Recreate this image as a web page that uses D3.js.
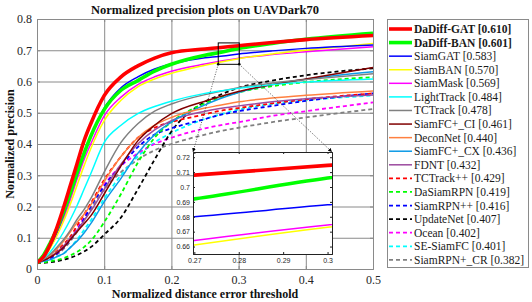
<!DOCTYPE html>
<html>
<head>
<meta charset="utf-8">
<script src="https://cdn.jsdelivr.net/npm/d3@7"></script>
<style>
  body { margin: 0; background: #fff; }
  svg { display: block; }
  text { font-family: "Liberation Serif", "Times New Roman", serif; }
</style>
</head>
<body>
<svg id="chart" width="532" height="302"></svg>
<script>
// thresholds shared by every curve
var thresholds = [ 0, 0.01, 0.02, 0.03, 0.04, 0.05, 0.06, 0.07, 0.08, 0.1, 0.125, 0.15, 0.175, 0.2, 0.25, 0.27, 0.3, 0.35, 0.4, 0.5 ];

var trackers = [ "DaDiff-GAT", "DaDiff-BAN", "SiamGAT", "SiamBAN", "SiamMask", "LightTrack", "TCTrack", "SiamFC+_CI", "DeconNet",
  "SiamFC+_CX", "FDNT", "TCTrack++", "DaSiamRPN", "SiamRPN++", "UpdateNet", "Ocean", "SE-SiamFC", "SiamRPN+_CR" ];
var scores = [ "0.610", "0.601", "0.583", "0.570", "0.569", "0.484", "0.478", "0.461", "0.440",
  "0.436", "0.432", "0.429", "0.419", "0.416", "0.407", "0.402", "0.401", "0.382" ];

var dadiffGat  = [ 0.02, 0.04, 0.08, 0.135, 0.20, 0.27, 0.34, 0.41, 0.465, 0.555, 0.615, 0.65, 0.675, 0.692, 0.704, 0.708, 0.7145, 0.725, 0.734, 0.747 ];
var dadiffBan  = [ 0.02, 0.045, 0.085, 0.13, 0.185, 0.245, 0.31, 0.37, 0.425, 0.51, 0.572, 0.603, 0.633, 0.655, 0.684, 0.692, 0.706, 0.722, 0.735, 0.754 ];
var siamGat    = [ 0.02, 0.04, 0.075, 0.12, 0.175, 0.24, 0.305, 0.37, 0.425, 0.515, 0.58, 0.615, 0.64, 0.656, 0.676, 0.680, 0.688, 0.698, 0.706, 0.717 ];
var siamBan    = [ 0.02, 0.038, 0.068, 0.108, 0.155, 0.21, 0.27, 0.33, 0.385, 0.475, 0.54, 0.583, 0.608, 0.626, 0.652, 0.661, 0.673, 0.688, 0.700, 0.722 ];
var siamMask   = [ 0.02, 0.04, 0.072, 0.115, 0.165, 0.225, 0.29, 0.35, 0.40, 0.49, 0.55, 0.59, 0.615, 0.633, 0.656, 0.664, 0.6745, 0.686, 0.695, 0.711 ];
var lightTrack = [ 0.02, 0.035, 0.055, 0.085, 0.12, 0.16, 0.205, 0.255, 0.305, 0.405, 0.46, 0.497, 0.52, 0.537, 0.562, 0.569, 0.578, 0.59, 0.598, 0.608 ];
var tcTrack    = [ 0.02, 0.032, 0.048, 0.07, 0.095, 0.125, 0.16, 0.19, 0.225, 0.31, 0.405, 0.465, 0.505, 0.528, 0.558, 0.567, 0.58, 0.595, 0.606, 0.625 ];
var siamFcCi   = [ 0.02, 0.028, 0.038, 0.052, 0.07, 0.095, 0.12, 0.145, 0.17, 0.24, 0.33, 0.41, 0.46, 0.497, 0.537, 0.55, 0.568, 0.59, 0.608, 0.645 ];
var deconNet   = [ 0.02, 0.03, 0.045, 0.065, 0.09, 0.12, 0.15, 0.175, 0.205, 0.28, 0.36, 0.42, 0.46, 0.485, 0.515, 0.523, 0.535, 0.547, 0.556, 0.570 ];
var siamFcCx   = [ 0.02, 0.025, 0.03, 0.04, 0.05, 0.07, 0.09, 0.115, 0.145, 0.215, 0.29, 0.37, 0.43, 0.47, 0.525, 0.543, 0.565, 0.59, 0.607, 0.631 ];
var fdnt       = [ 0.02, 0.028, 0.04, 0.055, 0.075, 0.1, 0.125, 0.155, 0.185, 0.255, 0.335, 0.40, 0.445, 0.475, 0.505, 0.513, 0.522, 0.535, 0.545, 0.557 ];
var tcTrackPP  = [ 0.02, 0.028, 0.04, 0.058, 0.08, 0.105, 0.14, 0.175, 0.21, 0.285, 0.36, 0.42, 0.452, 0.47, 0.495, 0.505, 0.515, 0.53, 0.543, 0.562 ];
var daSiamRpn  = [ 0.02, 0.021, 0.025, 0.029, 0.035, 0.044, 0.055, 0.07, 0.09, 0.15, 0.24, 0.34, 0.42, 0.47, 0.53, 0.547, 0.565, 0.585, 0.598, 0.614 ];
var siamRpnPP  = [ 0.02, 0.027, 0.035, 0.05, 0.07, 0.095, 0.125, 0.16, 0.2, 0.265, 0.33, 0.39, 0.43, 0.45, 0.48, 0.492, 0.505, 0.522, 0.538, 0.562 ];
var updateNet  = [ 0.02, 0.02, 0.022, 0.025, 0.03, 0.036, 0.045, 0.056, 0.07, 0.11, 0.165, 0.255, 0.35, 0.44, 0.535, 0.555, 0.58, 0.603, 0.62, 0.642 ];
var ocean      = [ 0.02, 0.027, 0.035, 0.05, 0.07, 0.097, 0.13, 0.165, 0.205, 0.27, 0.33, 0.37, 0.40, 0.42, 0.45, 0.459, 0.47, 0.49, 0.505, 0.533 ];
var seSiamFc   = [ 0.02, 0.025, 0.03, 0.04, 0.05, 0.07, 0.095, 0.125, 0.155, 0.225, 0.30, 0.36, 0.405, 0.435, 0.48, 0.493, 0.51, 0.528, 0.54, 0.555 ];
var siamRpnCr  = [ 0.02, 0.026, 0.033, 0.047, 0.065, 0.09, 0.12, 0.155, 0.19, 0.255, 0.31, 0.35, 0.38, 0.40, 0.43, 0.44, 0.452, 0.47, 0.485, 0.512 ];

var curves = [ dadiffGat, dadiffBan, siamGat, siamBan, siamMask, lightTrack, tcTrack, siamFcCi, deconNet,
  siamFcCx, fdnt, tcTrackPP, daSiamRpn, siamRpnPP, updateNet, ocean, seSiamFc, siamRpnCr ];

var colors = [ "#ff0000", "#00ff00", "#0000ff", "#ffff00", "#ff00ff", "#00ffff", "#808080", "#800000", "#ff8040",
  "#0d9ae6", "#9c4a9f", "#ff0000", "#00ff00", "#0000ff", "#000000", "#ff00ff", "#00ffff", "#808080" ];
var dashed = [ false, false, false, false, false, false, false, false, false, false, false, true, true, true, true, true, true, true ];

var xTicks = [ 0, 0.1, 0.2, 0.3, 0.4, 0.5 ];
var yTicks = [ 0, 0.1, 0.2, 0.3, 0.4, 0.5, 0.6, 0.7, 0.8 ];
var zoomXTicks = [ 0.27, 0.28, 0.29, 0.3 ];
var zoomYTicks = [ 0.66, 0.67, 0.68, 0.69, 0.7, 0.71, 0.72 ];
var zoomDomainX = [ 0.2697, 0.301 ];
var zoomDomainY = [ 0.655, 0.7235 ];
var zoomCount = 5;

var MARGIN = { left: 37, right: 373, top: 19, bottom: 269 };
var INSET = { left: 193, right: 332, top: 152, bottom: 254 };

var svg = d3.select( "#chart" );

var x = d3.scaleLinear().domain( [ 0, 0.5 ] ).range( [ MARGIN.left, MARGIN.right ] );
var y = d3.scaleLinear().domain( [ 0, 0.8 ] ).range( [ MARGIN.bottom, MARGIN.top ] );

var styleOf = function( i ){
  return {
    width: i < 2 ? 3.6 : ( dashed[ i ] ? 1.8 : 1.5 ),
    dash: dashed[ i ] ? "4,3" : null
  };
};

var defs = svg.append( "defs" );
defs.append( "clipPath" ).attr( "id", "clip-main" )
  .append( "rect" )
  .attr( "x", MARGIN.left ).attr( "y", MARGIN.top )
  .attr( "width", MARGIN.right - MARGIN.left ).attr( "height", MARGIN.bottom - MARGIN.top );
defs.append( "clipPath" ).attr( "id", "clip-inset" )
  .append( "rect" )
  .attr( "x", INSET.left ).attr( "y", INSET.top )
  .attr( "width", INSET.right - INSET.left ).attr( "height", INSET.bottom - INSET.top );
defs.append( "marker" )
  .attr( "id", "arrow" )
  .attr( "viewBox", "0 0 10 10" )
  .attr( "refX", 10 ).attr( "refY", 5 )
  .attr( "markerWidth", 5 ).attr( "markerHeight", 5 )
  .attr( "orient", "auto" )
  .append( "path" )
  .attr( "d", "M0,0 L10,5 L0,10 z" )
  .attr( "fill", "#000" );

// grid
svg.append( "g" ).call( d3.axisBottom( x ).tickValues( xTicks ).tickSize( -( MARGIN.bottom - MARGIN.top ) ).tickFormat( "" ) )
  .attr( "transform", "translate(0," + MARGIN.bottom + ")" )
  .call( function( g ){ g.select( ".domain" ).remove(); g.selectAll( "line" ).attr( "stroke", "#e3e3e3" ); } );
svg.append( "g" ).call( d3.axisLeft( y ).tickValues( yTicks ).tickSize( -( MARGIN.right - MARGIN.left ) ).tickFormat( "" ) )
  .attr( "transform", "translate(" + MARGIN.left + ",0)" )
  .call( function( g ){ g.select( ".domain" ).remove(); g.selectAll( "line" ).attr( "stroke", "#e3e3e3" ); } );

// curves, drawn last-first so the best tracker sits on top
var line = d3.line()
  .x( function( d, i ){ return x( thresholds[ i ] ); } )
  .y( function( d ){ return y( d ); } )
  .curve( d3.curveMonotoneX );

var plot = svg.append( "g" ).attr( "clip-path", "url(#clip-main)" );
for( var index = curves.length - 1 ; index >= 0 ; index-- ){
  var st = styleOf( index );
  plot.append( "path" )
    .datum( curves[ index ] )
    .attr( "d", line )
    .attr( "fill", "none" )
    .attr( "stroke", colors[ index ] )
    .attr( "stroke-width", st.width )
    .attr( "stroke-dasharray", st.dash );
}

// axes box with inward ticks
var axisColor = "#8a8a8a";
svg.append( "g" ).attr( "transform", "translate(0," + MARGIN.bottom + ")" )
  .call( d3.axisBottom( x ).tickValues( xTicks ).tickSize( -3 ).tickPadding( 6 ).tickFormat( d3.format( "" ) ) );
svg.append( "g" ).attr( "transform", "translate(0," + MARGIN.top + ")" )
  .call( d3.axisTop( x ).tickValues( xTicks ).tickSize( -3 ).tickFormat( "" ) );
svg.append( "g" ).attr( "transform", "translate(" + MARGIN.left + ",0)" )
  .call( d3.axisLeft( y ).tickValues( yTicks ).tickSize( -3 ).tickPadding( 5 ).tickFormat( d3.format( "" ) ) );
svg.append( "g" ).attr( "transform", "translate(" + MARGIN.right + ",0)" )
  .call( d3.axisRight( y ).tickValues( yTicks ).tickSize( -3 ).tickFormat( "" ) );
svg.selectAll( ".domain, .tick line" ).attr( "stroke", axisColor );
svg.selectAll( ".tick text" )
  .attr( "font-size", 12 )
  .attr( "fill", "#262626" );

// zoom box and arrows
var zx0 = x( zoomDomainX[ 0 ] ), zx1 = x( zoomDomainX[ 1 ] );
var zy0 = y( zoomDomainY[ 1 ] ), zy1 = y( zoomDomainY[ 0 ] );
svg.append( "rect" )
  .attr( "x", zx0 ).attr( "y", zy0 )
  .attr( "width", zx1 - zx0 ).attr( "height", zy1 - zy0 )
  .attr( "fill", "none" ).attr( "stroke", "#000" ).attr( "stroke-width", 1 );
[ [ zx0, INSET.left ], [ zx1, INSET.right ] ].forEach( function( p ){
  svg.append( "line" )
    .attr( "x1", p[ 0 ] ).attr( "y1", zy1 )
    .attr( "x2", p[ 1 ] ).attr( "y2", INSET.top )
    .attr( "stroke", "#333" ).attr( "stroke-width", 0.8 )
    .attr( "stroke-dasharray", "1,1.5" )
    .attr( "marker-end", "url(#arrow)" );
  svg.append( "circle" ).attr( "cx", p[ 0 ] ).attr( "cy", zy1 ).attr( "r", 1.3 ).attr( "fill", "#000" );
} );

// inset
var ix = d3.scaleLinear().domain( zoomDomainX ).range( [ INSET.left, INSET.right ] );
var iy = d3.scaleLinear().domain( zoomDomainY ).range( [ INSET.bottom, INSET.top ] );

svg.append( "rect" )
  .attr( "x", INSET.left ).attr( "y", INSET.top )
  .attr( "width", INSET.right - INSET.left ).attr( "height", INSET.bottom - INSET.top )
  .attr( "fill", "#fff" );

var insetLine = d3.line()
  .x( function( d, i ){ return ix( thresholds[ i ] ); } )
  .y( function( d ){ return iy( d ); } )
  .curve( d3.curveMonotoneX );

var inset = svg.append( "g" ).attr( "clip-path", "url(#clip-inset)" );
for( var k = zoomCount - 1 ; k >= 0 ; k-- ){
  inset.append( "path" )
    .datum( curves[ k ] )
    .attr( "d", insetLine )
    .attr( "fill", "none" )
    .attr( "stroke", colors[ k ] )
    .attr( "stroke-width", k < 2 ? 3.6 : 1.5 );
}

var insetAxes = svg.append( "g" ).attr( "class", "inset-axes" );
insetAxes.append( "g" ).attr( "transform", "translate(0," + INSET.bottom + ")" )
  .call( d3.axisBottom( ix ).tickValues( zoomXTicks ).tickSize( -2 ).tickPadding( 4 ).tickFormat( d3.format( "" ) ) );
insetAxes.append( "g" ).attr( "transform", "translate(0," + INSET.top + ")" )
  .call( d3.axisTop( ix ).tickValues( zoomXTicks ).tickSize( -2 ).tickFormat( "" ) );
insetAxes.append( "g" ).attr( "transform", "translate(" + INSET.left + ",0)" )
  .call( d3.axisLeft( iy ).tickValues( zoomYTicks ).tickSize( -2 ).tickPadding( 3 ).tickFormat( d3.format( "" ) ) );
insetAxes.append( "g" ).attr( "transform", "translate(" + INSET.right + ",0)" )
  .call( d3.axisRight( iy ).tickValues( zoomYTicks ).tickSize( -2 ).tickFormat( "" ) );
insetAxes.selectAll( ".domain, .tick line" ).attr( "stroke", "#222" ).attr( "stroke-width", 1 );
insetAxes.selectAll( ".tick text" )
  .style( "font-family", "'Liberation Sans', Arial, sans-serif" )
  .attr( "font-size", 7 )
  .attr( "fill", "#262626" );

// titles
svg.append( "text" )
  .attr( "x", 205 ).attr( "y", 14 )
  .attr( "text-anchor", "middle" )
  .attr( "font-size", 12.5 ).attr( "font-weight", "bold" )
  .attr( "fill", "#111" )
  .text( "Normalized precision plots on UAVDark70" );
svg.append( "text" )
  .attr( "x", 205 ).attr( "y", 298 )
  .attr( "text-anchor", "middle" )
  .attr( "font-size", 12 ).attr( "font-weight", "bold" )
  .attr( "fill", "#111" )
  .text( "Normalized distance error threshold" );
svg.append( "text" )
  .attr( "transform", "translate(14,144) rotate(-90)" )
  .attr( "text-anchor", "middle" )
  .attr( "font-size", 12 ).attr( "font-weight", "bold" )
  .attr( "fill", "#111" )
  .text( "Normalized precision" );

// legend
var legend = svg.append( "g" );
legend.append( "rect" )
  .attr( "x", 387.5 ).attr( "y", 19.5 )
  .attr( "width", 141 ).attr( "height", 248 )
  .attr( "fill", "#fff" ).attr( "stroke", "#8a8a8a" );
for( var j = 0 ; j < trackers.length ; j++ ){
  var ly = 29 + j * 13.58;
  var ls = styleOf( j );
  legend.append( "line" )
    .attr( "x1", 389 ).attr( "x2", 412 )
    .attr( "y1", ly ).attr( "y2", ly )
    .attr( "stroke", colors[ j ] )
    .attr( "stroke-width", ls.width )
    .attr( "stroke-dasharray", ls.dash );
  legend.append( "text" )
    .attr( "x", 414 ).attr( "y", ly + 4 )
    .attr( "font-size", 11.5 )
    .attr( "font-weight", j < 2 ? "bold" : "normal" )
    .attr( "fill", "#1a1a1a" )
    .text( trackers[ j ] + " [" + scores[ j ] + "]" );
}
</script>
</body>
</html>
